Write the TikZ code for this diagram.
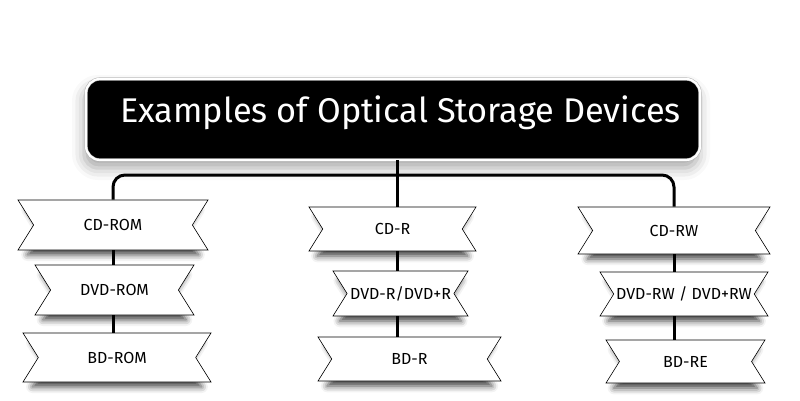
\documentclass[tikz,border=0pt]{standalone}
\usepackage{fontspec}
\setmainfont{Fira Sans}
\usetikzlibrary{shapes.symbols,shadows.blur}

\tikzset{
	banner/.style={signal, signal from=west and east, signal to=nowhere,
		signal pointer angle=116, draw=black, line width=0.6pt, fill=white,
		inner sep=0pt, font=\fontsize{16}{18}\selectfont,
		blur shadow={shadow xshift=0pt, shadow yshift=-8pt, shadow blur radius=7pt, shadow opacity=75, shadow scale=0.9}},
	heading/.style={rounded corners=14pt, fill=black, draw=gray!60, double=white,
		double distance=2.2pt, line width=0.5pt, text=white, inner sep=0pt,
		font=\fontsize{34.3}{40}\selectfont,
		blur shadow={shadow xshift=-2pt, shadow yshift=-8pt, shadow blur radius=12pt, shadow opacity=35}},
	link/.style={line width=3pt, black}
}

\begin{document}
\begin{tikzpicture}[x=1pt,y=-1pt]
				\useasboundingbox (0,0) rectangle (800,400);
				
				\node[heading, anchor=base, minimum width=614pt, text height=43pt, text depth=38pt] (title) at (393,122) {\hspace*{15pt}Examples of Optical Storage Devices};
				\coordinate (hub) at (397,175);
				
				% left column
				\node[banner, minimum width=190pt, minimum height=50pt] (cdrom) at (113,225) {CD-ROM};
				\node[banner, minimum width=159pt, minimum height=50pt] (dvdrom) at (114.5,290) {DVD-ROM};
				\node[banner, minimum width=188pt, minimum height=49pt] (bdrom) at (117,357.5) {BD-ROM};
				
				% middle column
				\node[banner, minimum width=167pt, minimum height=44pt] (cdr) at (392.5,229) {CD-R};
				\node[banner, minimum width=135pt, minimum height=45pt] (dvdr) at (400.5,293.5) {DVD-R/DVD+R};
				\node[banner, minimum width=183pt, minimum height=44pt] (bdr) at (409.5,359) {BD-R};
				
				% right column
				\node[banner, minimum width=192pt, minimum height=47pt] (cdrw) at (674,230.5) {CD-RW};
				\node[banner, minimum width=168pt, minimum height=44pt] (dvdrw) at (684,294) {DVD-RW / DVD+RW};
				\node[banner, minimum width=159pt, minimum height=43pt] (bdre) at (685.5,361.5) {BD-RE};
				
				\draw[link, rounded corners=12pt] (cdrom.north) |- (hub) -| (cdrw.north);
				\draw[link] (title.south -| hub) -- (cdr.north -| hub);
				
				\draw[link] (cdrom.south) -- (cdrom.south |- dvdrom.north);
				\draw[link] (cdrom.south |- dvdrom.south) -- (cdrom.south |- bdrom.north);
				\draw[link] (cdr.south -| hub) -- (dvdr.north -| hub);
				\draw[link] (dvdr.south -| hub) -- (bdr.north -| hub);
				\draw[link] (cdrw.south) -- (cdrw.south |- dvdrw.north);
				\draw[link] (cdrw.south |- dvdrw.south) -- (cdrw.south |- bdre.north);
			\end{tikzpicture}
\end{document}
